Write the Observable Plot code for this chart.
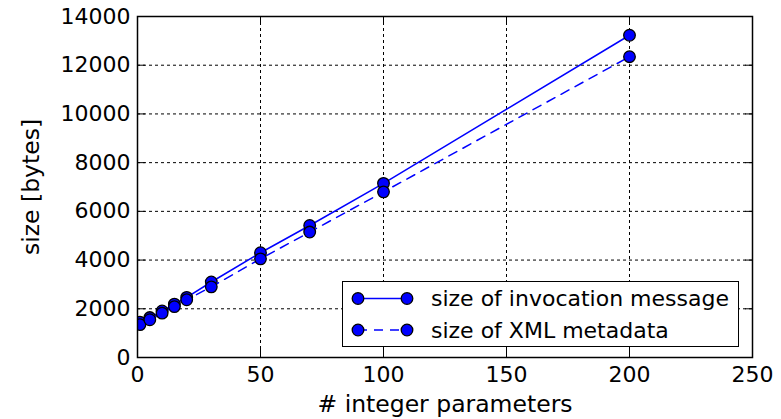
<!DOCTYPE html>
<html>
<head>
<meta charset="utf-8">
<script src="https://cdn.jsdelivr.net/npm/d3@7"></script>
<script src="https://cdn.jsdelivr.net/npm/@observablehq/plot@0.6"></script>
<style>
  html, body { margin: 0; padding: 0; background: #fff; }
  #wrap { position: relative; width: 781px; height: 419px; font-family: "DejaVu Sans", sans-serif; }
  #legend { position: absolute; left: 342px; top: 281px; width: 395px; height: 64px; background: #fff; border: 1.5px solid #000; }
</style>
</head>
<body>
<div id="wrap"></div>
<script>
// ---- data ----
const params = [1, 5, 10, 15, 20, 30, 50, 70, 100, 200];
const invocationSize = [1450, 1640, 1910, 2190, 2470, 3100, 4300, 5420, 7150, 13230];
const xmlSize = [1350, 1550, 1820, 2090, 2370, 2900, 4050, 5150, 6800, 12350];
const seriesNames = ["size of invocation message", "size of XML metadata"];
const xTicks = [0, 50, 100, 150, 200, 250];
const yTicks = [0, 2000, 4000, 6000, 8000, 10000, 12000, 14000];
const xGrid = [50, 100, 150, 200];
const yGrid = [2000, 4000, 6000, 8000, 10000, 12000];
const xLabel = "# integer parameters";
const yLabel = "size [bytes]";

const inv = params.map((p, i) => ({x: p, y: invocationSize[i]}));
const xml = params.map((p, i) => ({x: p, y: xmlSize[i]}));

const blue = "#0000ff";
const font = "DejaVu Sans";
const fs = 22;
const labelFs = 23.5;

const chart = Plot.plot({
  width: 781,
  height: 419,
  marginLeft: 137,
  marginRight: 29,
  marginTop: 16,
  marginBottom: 62,
  style: {fontFamily: font, fontSize: fs + "px", color: "#000", background: "#fff", overflow: "visible"},
  x: {domain: [0, 250], ticks: xTicks, label: null},
  y: {domain: [0, 14000], ticks: yTicks, label: null},
  marks: [
    Plot.gridX(xGrid, {stroke: "#000", strokeOpacity: 1, strokeWidth: 1, strokeDasharray: "3,3"}),
    Plot.gridY(yGrid, {stroke: "#000", strokeOpacity: 1, strokeWidth: 1, strokeDasharray: "3,3"}),
    Plot.line(inv, {x: "x", y: "y", stroke: blue, strokeWidth: 1.5, clip: "frame"}),
    Plot.dot(inv, {x: "x", y: "y", r: 5.8, fill: blue, stroke: "#000", strokeWidth: 1.3, clip: "frame"}),
    Plot.line(xml, {x: "x", y: "y", stroke: blue, strokeWidth: 1.5, strokeDasharray: "9,7", clip: "frame"}),
    Plot.dot(xml, {x: "x", y: "y", r: 5.8, fill: blue, stroke: "#000", strokeWidth: 1.3, clip: "frame"}),
    Plot.axisX(xTicks, {anchor: "bottom", tickSize: -8, tickPadding: 17, label: null, fontSize: fs, tickFormat: d3.format("d"), strokeWidth: 1}),
    Plot.axisX(xTicks, {anchor: "top", tickSize: -8, tickFormat: () => "", label: null, strokeWidth: 1}),
    Plot.axisY(yTicks, {anchor: "left", tickSize: -8, tickPadding: 15, label: null, fontSize: fs, tickFormat: d3.format("d"), strokeWidth: 1}),
    Plot.axisY(yTicks, {anchor: "right", tickSize: -8, tickFormat: () => "", label: null, strokeWidth: 1}),
    Plot.frame({stroke: "#000", strokeWidth: 1.5}),
    Plot.text([xLabel], {frameAnchor: "bottom", lineAnchor: "middle", textAnchor: "middle", dy: 47, text: d => d, fontSize: labelFs, fill: "#000"}),
    Plot.text([yLabel], {frameAnchor: "left", lineAnchor: "middle", textAnchor: "middle", dx: -106, rotate: -90, text: d => d, fontSize: labelFs, fill: "#000"})
  ]
});

const wrap = document.getElementById("wrap");
wrap.appendChild(chart);

// ---- legend ----
const legend = document.createElement("div");
legend.id = "legend";
wrap.appendChild(legend);
const lsvg = d3.select(legend).append("svg").attr("width", 395).attr("height", 64)
  .style("display", "block").style("font-family", font);
const dashes = [null, "9,7"];
seriesNames.forEach((name, i) => {
  const cy = 16.5 + i * 31.5;
  lsvg.append("line").attr("x1", 15).attr("x2", 64).attr("y1", cy).attr("y2", cy)
    .attr("stroke", blue).attr("stroke-width", 1.5).attr("stroke-dasharray", dashes[i]);
  [15, 64].forEach(cx => lsvg.append("circle").attr("cx", cx).attr("cy", cy).attr("r", 5.8)
    .attr("fill", blue).attr("stroke", "#000").attr("stroke-width", 1.3));
  lsvg.append("text").attr("x", 88).attr("y", cy).attr("dy", "0.35em")
    .attr("font-size", fs).attr("fill", "#000").text(name);
});
</script>
</body>
</html>
